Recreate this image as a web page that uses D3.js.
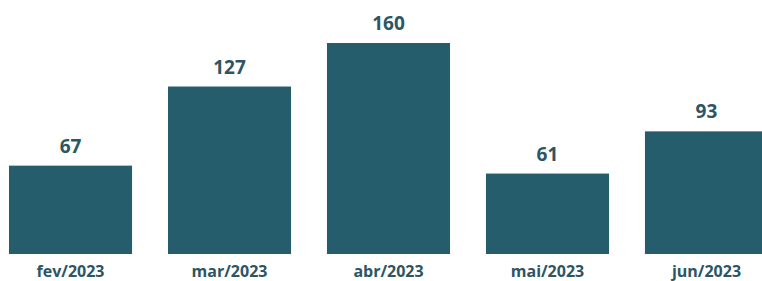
<!DOCTYPE html>
<html>
<head>
<meta charset="utf-8">
<script src="https://cdn.jsdelivr.net/npm/d3@7"></script>
<style>
  body { margin: 0; background: #fff; }
  text { font-family: "Open Sans", sans-serif; font-weight: 700; }
</style>
</head>
<body>
<svg></svg>
<script>
const width = 762;
const height = 281;
const baseline = 254;

const months = ["fev/2023", "mar/2023", "abr/2023", "mai/2023", "jun/2023"];
const values = [67, 127, 160, 61, 93];

const svg = d3.select("svg").attr("width", width).attr("height", height);

const xScale = d3
  .scaleBand()
  .domain(months)
  .range([9, 768])
  .paddingInner(0.226)
  .paddingOuter(0);

const yScale = d3
  .scaleLinear()
  .domain([0, 160])
  .range([baseline, 43]);

const data = months.map((m, i) => ({ month: m, value: values[i] }));

svg
  .selectAll("rect")
  .data(data)
  .enter()
  .append("rect")
  .attr("x", (d) => xScale(d.month))
  .attr("y", (d) => yScale(d.value))
  .attr("width", xScale.bandwidth())
  .attr("height", (d) => baseline - yScale(d.value))
  .attr("fill", "#255d6c");

svg
  .selectAll(".value")
  .data(data)
  .enter()
  .append("text")
  .attr("class", "value")
  .attr("x", (d) => xScale(d.month) + xScale.bandwidth() / 2)
  .attr("y", (d) => yScale(d.value) - 13)
  .attr("text-anchor", "middle")
  .attr("font-size", 19)
  .attr("fill", "#2d5564")
  .text((d) => d.value);

const xAxis = d3.axisBottom(xScale).tickSize(0).tickPadding(0);
const gx = svg
  .append("g")
  .attr("transform", `translate(0, ${baseline})`)
  .call(xAxis);
gx.select(".domain").remove();
gx.selectAll("text")
  .attr("dy", null)
  .attr("y", 23)
  .attr("font-size", 16)
  .attr("fill", "#2d5564")
  .style("font-family", "'Open Sans', sans-serif")
  .style("font-weight", 700);
</script>
</body>
</html>
